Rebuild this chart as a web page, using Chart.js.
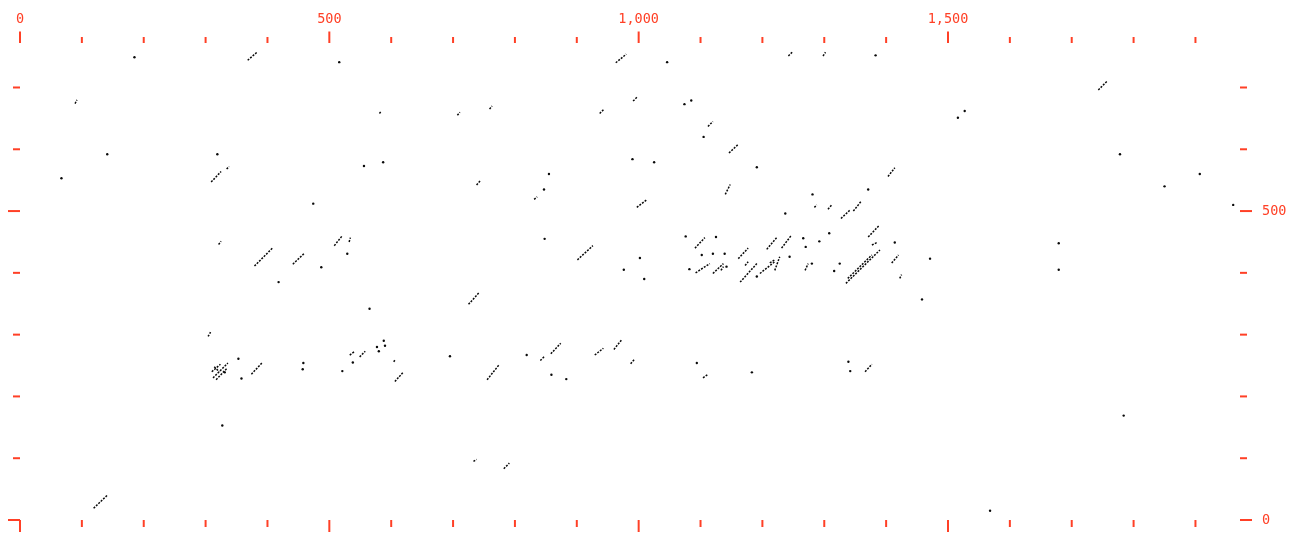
<!DOCTYPE html>
<html>
<head>
<meta charset="utf-8">
<script src="https://cdn.jsdelivr.net/npm/chart.js@4/dist/chart.umd.min.js"></script>
<style>
  html, body { margin: 0; padding: 0; background: #ffffff; }
  #wrap { width: 1291px; height: 533px; }
</style>
</head>
<body>
<div id="wrap"><canvas id="plot" width="1291" height="533"></canvas></div>
<script>
// Axis extents (sequence lengths) and tick positions
const xRange = [0, 1972];
const yRange = [0, 772];
const xTicks = [0, 100, 200, 300, 400, 500, 600, 700, 800, 900, 1000, 1100, 1200, 1300, 1400, 1500, 1600, 1700, 1800, 1900];
const yTicks = [0, 100, 200, 300, 400, 500, 600, 700];
const xLabelled = [0, 500, 1000, 1500];
const yLabelled = [0, 500];

// Match runs as [xStart, yStart, xEnd, yEnd]
const upperRuns = [
  [368, 744, 383, 757], [963, 740, 980, 754], [1242, 751, 1249, 758], [1298, 751, 1302, 757],
  [1743, 696, 1758, 711], [89, 674, 92, 680], [581, 658, 584, 662], [707, 655, 711, 660],
  [759, 665, 763, 670], [937, 658, 944, 665], [991, 678, 998, 685], [1112, 637, 1120, 645],
  [1146, 594, 1161, 608], [309, 547, 325, 564], [334, 568, 338, 572], [738, 542, 744, 549],
  [831, 519, 836, 523], [997, 506, 1014, 519], [1403, 556, 1414, 570], [1140, 527, 1148, 543],
  [1284, 506, 1288, 510], [1306, 503, 1312, 510], [1327, 488, 1342, 502], [1347, 500, 1359, 515]
];
const middleRuns = [
  [321, 446, 325, 451], [379, 411, 409, 441], [441, 414, 460, 432], [508, 444, 520, 459],
  [532, 450, 534, 457], [901, 421, 926, 444], [1091, 440, 1107, 457], [1092, 400, 1115, 415],
  [1120, 399, 1137, 415], [1161, 423, 1177, 440], [1164, 385, 1191, 415], [1207, 438, 1224, 458],
  [1231, 440, 1247, 461], [1196, 399, 1220, 418], [1220, 404, 1228, 426], [1269, 404, 1274, 415],
  [1371, 458, 1389, 477], [1377, 445, 1385, 449], [1335, 383, 1390, 437], [1338, 391, 1377, 429],
  [1409, 416, 1420, 429], [1422, 391, 1425, 397], [1133, 404, 1137, 410], [1172, 412, 1177, 418],
  [1212, 416, 1220, 421]
];
const lowerRuns = [
  [725, 349, 742, 368], [304, 297, 308, 304], [312, 230, 336, 254], [317, 227, 334, 245],
  [310, 240, 324, 252], [314, 248, 322, 240], [374, 236, 391, 254], [533, 267, 541, 273],
  [549, 264, 558, 273], [604, 256, 607, 260], [606, 224, 620, 240], [755, 227, 775, 252],
  [841, 258, 848, 265], [858, 269, 874, 286], [929, 267, 943, 278], [960, 276, 972, 291],
  [987, 253, 993, 260], [733, 95, 738, 98], [782, 83, 791, 92], [119, 19, 142, 41],
  [1104, 230, 1111, 235], [1366, 240, 1377, 252]
];
// Isolated single-word hits as [x, y]
const singleHits = [
  [185, 749], [516, 741], [141, 592], [319, 592], [67, 553], [556, 573], [587, 579], [990, 584],
  [855, 560], [847, 535], [474, 512], [1046, 741], [1383, 752], [1074, 673], [1085, 679], [1105, 620],
  [1025, 579], [1191, 571], [1516, 651], [1527, 662], [1778, 592], [1907, 560], [1850, 540], [1961, 510],
  [1371, 535], [1281, 527], [1237, 496], [529, 431], [487, 409], [418, 385], [848, 455], [976, 405],
  [1002, 424], [1009, 390], [565, 342], [353, 261], [358, 229], [458, 254], [457, 244], [521, 241],
  [538, 255], [577, 280], [580, 273], [588, 290], [590, 282], [695, 265], [819, 267], [859, 235],
  [883, 228], [327, 153], [1568, 15], [1784, 169], [1094, 254], [1183, 239], [1339, 256], [1342, 241],
  [1679, 448], [1679, 405], [1458, 357], [1076, 459], [1125, 458], [1102, 429], [1120, 431], [1139, 431],
  [1082, 406], [1191, 394], [1266, 456], [1270, 442], [1244, 426], [1280, 415], [1292, 451], [1308, 464],
  [1316, 403], [1325, 415], [1414, 449], [1471, 423], [1142, 410], [331, 239]
];

const AXIS_RED = '#ff4026';
const INK = '#0a0a0a';

// Each run becomes two points followed by a gap marker
function runsToPoints(runs) {
  const pts = [];
  runs.forEach(([x1, y1, x2, y2]) => {
    pts.push({ x: x1, y: y1 }, { x: x2, y: y2 }, { x: x2, y: null });
  });
  return pts;
}
const runPoints = runsToPoints([...upperRuns, ...middleRuns, ...lowerRuns]);
const hitPoints = singleHits.map(([x, y]) => ({ x, y }));

const tickValues = list => scale => { scale.ticks = list.map(v => ({ value: v })); };
const fmt = v => v.toLocaleString('en-US');
// Fixed axis thickness, with no extra room reserved for overhanging labels
const fixedSize = (prop, size) => scale => {
  scale[prop] = size;
  scale.paddingTop = 0; scale.paddingBottom = 0;
  scale.paddingLeft = 0; scale.paddingRight = 0;
};

// Tick marks on all four sides; multiples of 500 are drawn longer
const tickMarks = {
  id: 'tickMarks',
  afterDraw(chart) {
    const { ctx, chartArea: a } = chart;
    ctx.save();
    ctx.strokeStyle = AXIS_RED;
    ctx.lineWidth = 2;
    const sides = [['x', 'top'], ['xb', 'bottom'], ['yl', 'left'], ['y', 'right']];
    sides.forEach(([id, side]) => {
      const s = chart.scales[id];
      s.ticks.forEach(t => {
        const p = s.getPixelForValue(t.value);
        const major = t.value % 500 === 0;
        ctx.beginPath();
        if (side === 'top') { ctx.moveTo(p, a.top); ctx.lineTo(p, a.top - (major ? 11.5 : 6)); }
        if (side === 'bottom') { ctx.moveTo(p, a.bottom); ctx.lineTo(p, a.bottom + (major ? 12 : 7)); }
        if (side === 'left') { ctx.moveTo(a.left, p); ctx.lineTo(a.left - (major ? 12 : 7), p); }
        if (side === 'right') { ctx.moveTo(a.right, p); ctx.lineTo(a.right + (major ? 12 : 7), p); }
        ctx.stroke();
      });
    });
    ctx.restore();
  }
};

const labelFont = { family: "'DejaVu Sans Mono', monospace", size: 13.5 };
const hiddenGrid = { display: false, drawTicks: true, tickLength: 12 };

new Chart(document.getElementById('plot'), {
  type: 'scatter',
  data: {
    datasets: [
      {
        data: runPoints,
        showLine: true,
        spanGaps: false,
        borderColor: INK,
        borderWidth: 1.5,
        borderDash: [2, 1.3],
        pointRadius: 0,
        xAxisID: 'x',
        yAxisID: 'y'
      },
      {
        data: hitPoints,
        showLine: false,
        pointRadius: 1.2,
        pointBorderWidth: 0,
        pointBackgroundColor: INK,
        xAxisID: 'x',
        yAxisID: 'y'
      }
    ]
  },
  options: {
    responsive: false,
    animation: false,
    events: [],
    layout: { padding: 0 },
    plugins: { legend: { display: false }, tooltip: { enabled: false } },
    scales: {
      x: {
        type: 'linear', position: 'top', min: xRange[0], max: xRange[1],
        afterBuildTicks: tickValues(xTicks),
        afterFit: fixedSize('height', 43),
        grid: hiddenGrid, border: { display: false },
        ticks: {
          autoSkip: false, maxRotation: 0, padding: 3, color: AXIS_RED, font: labelFont,
          callback: v => xLabelled.includes(v) ? fmt(v) : ''
        }
      },
      xb: {
        type: 'linear', position: 'bottom', min: xRange[0], max: xRange[1],
        afterBuildTicks: tickValues(xTicks),
        afterFit: fixedSize('height', 13),
        grid: hiddenGrid, border: { display: false },
        ticks: { display: false }
      },
      y: {
        type: 'linear', position: 'right', min: yRange[0], max: yRange[1],
        afterBuildTicks: tickValues(yTicks),
        afterFit: fixedSize('width', 51),
        grid: hiddenGrid, border: { display: false },
        ticks: {
          autoSkip: false, padding: 10, color: AXIS_RED, font: labelFont,
          callback: v => yLabelled.includes(v) ? fmt(v) : ''
        }
      },
      yl: {
        type: 'linear', position: 'left', min: yRange[0], max: yRange[1],
        afterBuildTicks: tickValues(yTicks),
        afterFit: fixedSize('width', 20),
        grid: hiddenGrid, border: { display: false },
        ticks: { display: false }
      }
    }
  },
  plugins: [tickMarks]
});
</script>
</body>
</html>
